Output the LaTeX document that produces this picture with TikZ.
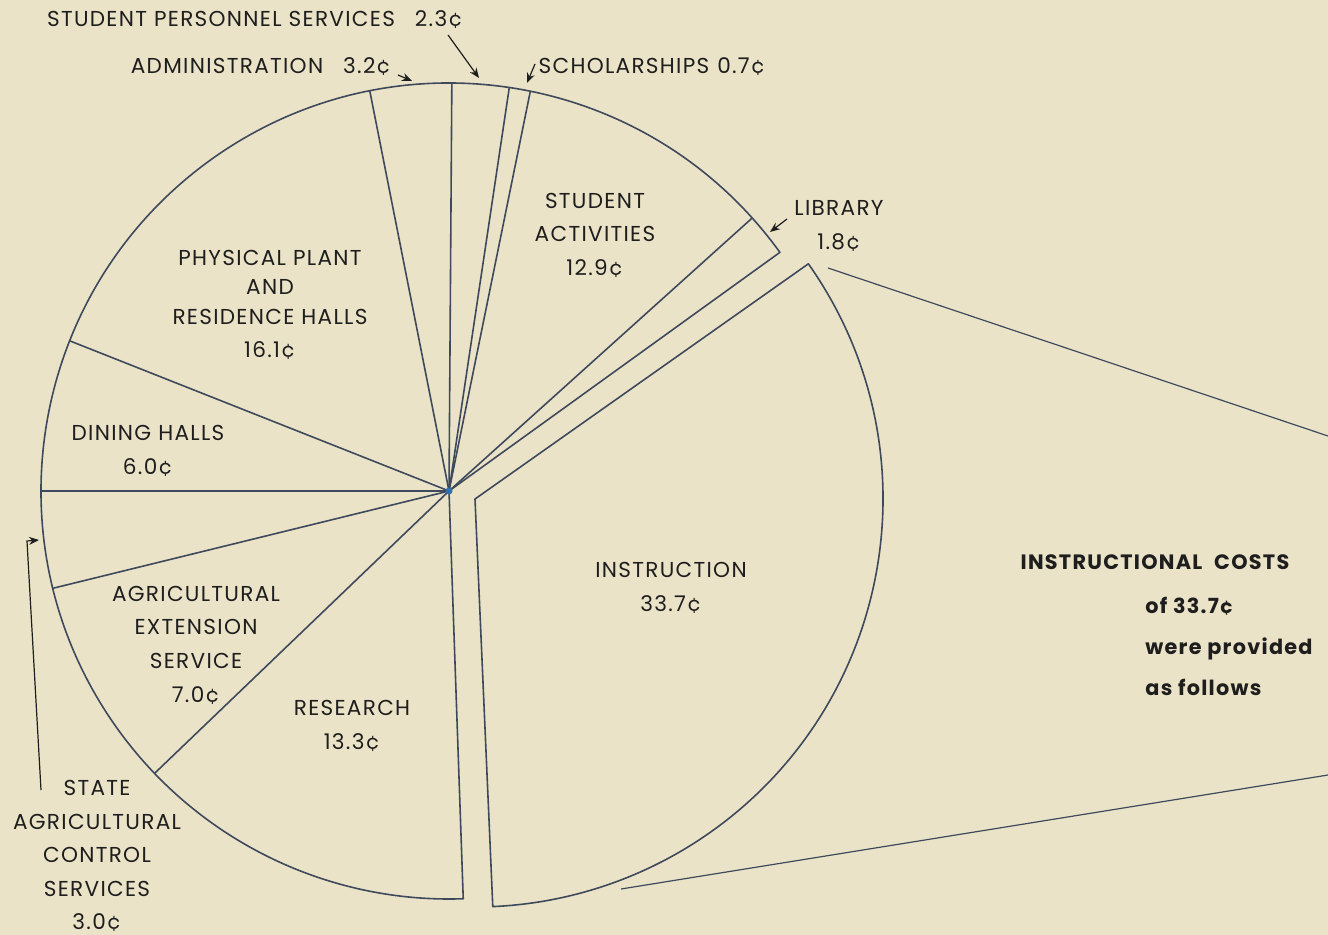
\documentclass[tikz,border=0pt]{standalone}
\usepackage{fontspec}
\setmainfont{Poppins}[LetterSpace=6]
\usetikzlibrary{arrows.meta}
\definecolor{bg}{HTML}{EBE3C7}
\definecolor{pieline}{HTML}{3E4A5C}
\definecolor{ink}{HTML}{1E1E1E}
\definecolor{dotblue}{HTML}{2F6DB5}
\begin{document}
\begin{tikzpicture}[x=0.5pt,y=0.5pt,
  pie/.style={draw=pieline, line width=0.8pt, line join=round},
  zoomline/.style={draw=pieline, line width=0.6pt},
  lbl/.style={text=ink, font=\fontsize{10.8}{16.8}\selectfont, inner sep=0pt, align=center},
  boldlbl/.style={text=ink, font=\bfseries\fontsize{10.4}{20.5}\selectfont, inner sep=0pt},
  ptr/.style={draw=ink, line width=0.6pt, -{Stealth[length=5pt,width=4pt]}}]
\fill[bg] (0,0) rectangle (1328,-935);
\useasboundingbox (0,0) rectangle (1328,-935);
\def\R{204pt}
% main pie
\coordinate (C) at (449,-491);
\draw[pie] (C) -- ++(35.8:\R) arc[start angle=35.8, end angle=272, radius=\R] -- cycle;
\foreach \a in {42,78.5,81.5,89.6,101.2,158.4,180,193.8,223.8}
  \draw[pie] (C) -- ++(\a:\R);
\fill[dotblue] (C) circle (3.5);
% exploded instruction slice
\coordinate (C2) at (475,-499);
\draw[pie] (C2) -- ++(35.2:\R) arc[start angle=35.2, end angle=-87.5, radius=\R] -- cycle;
% zoom lines to the right
\coordinate (zu1) at (828,-268);
\coordinate (zu2) at (1328,-436);
\coordinate (zl1) at (621,-889);
\coordinate (zl2) at (1328,-775);
\draw[zoomline] (zu1) -- (zu2);
\draw[zoomline] (zl1) -- (zl2);
% labels
\node[lbl] (sps) at (255,-20) {STUDENT PERSONNEL SERVICES\hspace{10pt}2.3¢};
\node[lbl] (adm) at (261,-67) {ADMINISTRATION\hspace{10pt}3.2¢};
\node[lbl] (sch) at (652,-67) {SCHOLARSHIPS\hspace{4pt}0.7¢};
\node[lbl] (lib) at (839,-226) {LIBRARY\\1.8¢};
\node[lbl] (sa) at (595,-235) {STUDENT\\ACTIVITIES\\12.9¢};
\node[lbl] (pp) at (270,-305) {PHYSICAL PLANT\\[-2.2pt]AND\\[-2.2pt]RESIDENCE HALLS\\16.1¢};
\node[lbl] (dh) at (148,-451) {DINING HALLS\\6.0¢};
\node[lbl] (ae) at (196,-645) {AGRICULTURAL\\EXTENSION\\SERVICE\\7.0¢};
\node[lbl] (re) at (352,-726) {RESEARCH\\13.3¢};
\node[lbl] (in) at (671,-588) {INSTRUCTION\\33.7¢};
\node[lbl] (sac) at (97,-856) {STATE\\AGRICULTURAL\\CONTROL\\SERVICES\\3.0¢};
\node[boldlbl] (ic) at (1155,-562) {INSTRUCTIONAL\hspace{6pt}COSTS};
\node[boldlbl, align=left, anchor=north west] (icx) at (1145,-597) {of 33.7¢\\were provided\\as follows};
% pointers
\coordinate (spsA) at (448,-35);
\coordinate (spsB) at (479,-78);
\draw[ptr] (spsA) -- (spsB);
\coordinate (admA) at (398,-75);
\coordinate (admB) at (412,-81);
\draw[ptr] (admA) -- (admB);
\coordinate (schA) at (535,-64);
\coordinate (schB) at (527,-83);
\draw[ptr] (schA) -- (schB);
\coordinate (libA) at (787,-219);
\coordinate (libB) at (770,-232);
\draw[ptr] (libA) -- (libB);
\coordinate (sacA) at (41,-790);
\coordinate (sacK) at (27,-541);
\coordinate (sacB) at (39,-540);
\draw[ptr] (sacA) -- (sacK) -- (sacB);
\end{tikzpicture}
\end{document}
